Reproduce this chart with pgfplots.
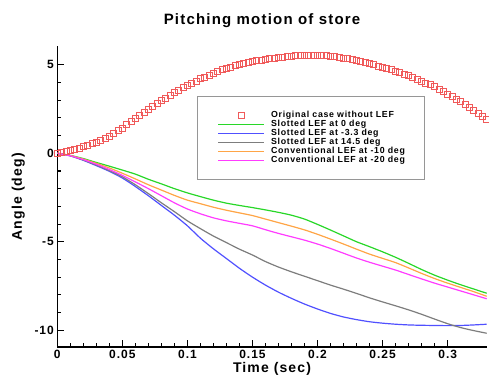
\documentclass[border=0pt]{standalone}
\usepackage{fontspec}
\setmainfont{Liberation Sans}[LetterSpace=8]
\usepackage{pgfplots}
\usepackage{pgfplotstable}
\pgfplotsset{compat=1.18}
\definecolor{cRed}{RGB}{240,90,90}
\definecolor{cGreen}{RGB}{40,215,40}
\definecolor{cBlue}{RGB}{80,80,255}
\definecolor{cGray}{RGB}{125,125,125}
\definecolor{cOrange}{RGB}{255,165,70}
\definecolor{cMag}{RGB}{255,60,255}
\definecolor{cLeg}{RGB}{150,150,150}
\pgfplotsset{
  lineleg/.style={legend image code/.code={\draw[##1, line width=1.6pt] (0pt,0pt) -- (46pt,0pt);}},
  markleg/.style={legend image code/.code={\draw[##1] plot coordinates {(23pt,0pt)};}},
}

\pgfplotstableread{
t v
0 0
0.0033 0.03
0.0067 0.08
0.01 0.15
0.0133 0.22
0.0167 0.29
0.02 0.36
0.0233 0.45
0.0267 0.53
0.03 0.62
0.0333 0.74
0.0367 0.85
0.04 0.97
0.0433 1.12
0.0467 1.27
0.05 1.42
0.0533 1.60
0.0567 1.77
0.06 1.95
0.0633 2.12
0.0667 2.30
0.07 2.47
0.0733 2.63
0.0767 2.80
0.08 2.96
0.0833 3.11
0.0867 3.27
0.09 3.42
0.0933 3.56
0.0967 3.69
0.10 3.83
0.1033 3.95
0.1067 4.08
0.11 4.20
0.1133 4.31
0.1167 4.41
0.12 4.52
0.1233 4.61
0.1267 4.71
0.13 4.80
0.1333 4.87
0.1367 4.95
0.14 5.02
0.1433 5.07
0.1467 5.13
0.15 5.18
0.1533 5.22
0.1567 5.27
0.16 5.31
0.1633 5.34
0.1667 5.38
0.17 5.41
0.1733 5.44
0.1767 5.46
0.18 5.49
0.1833 5.50
0.1867 5.52
0.19 5.53
0.1933 5.53
0.1967 5.53
0.20 5.53
0.2033 5.51
0.2067 5.50
0.21 5.48
0.2133 5.45
0.2167 5.41
0.22 5.38
0.2233 5.33
0.2267 5.29
0.23 5.24
0.2333 5.18
0.2367 5.12
0.24 5.06
0.2433 4.99
0.2467 4.93
0.25 4.86
0.2533 4.79
0.2567 4.72
0.26 4.65
0.2633 4.57
0.2667 4.48
0.27 4.40
0.2733 4.29
0.2767 4.19
0.28 4.08
0.2833 3.97
0.2867 3.86
0.29 3.75
0.2933 3.62
0.2967 3.48
0.30 3.35
0.3033 3.20
0.3067 3.05
0.31 2.90
0.3133 2.74
0.3167 2.58
0.32 2.42
0.3233 2.25
0.3267 2.07
0.33 1.90
}\orig

\pgfplotstableread{
t green blue gray orange mag
0.00 0 0 0 0 0
0.01 -0.12 -0.15 -0.14 -0.13 -0.14
0.02 -0.30 -0.40 -0.38 -0.33 -0.36
0.03 -0.52 -0.70 -0.66 -0.57 -0.62
0.04 -0.73 -1.02 -0.98 -0.83 -0.92
0.05 -0.95 -1.40 -1.33 -1.13 -1.25
0.06 -1.18 -1.88 -1.78 -1.45 -1.62
0.07 -1.47 -2.40 -2.28 -1.78 -2.00
0.08 -1.73 -2.95 -2.80 -2.08 -2.40
0.09 -2.00 -3.50 -3.30 -2.38 -2.80
0.10 -2.24 -4.10 -3.82 -2.65 -3.15
0.11 -2.45 -4.80 -4.26 -2.85 -3.42
0.12 -2.65 -5.40 -4.68 -3.05 -3.65
0.13 -2.82 -5.95 -5.05 -3.22 -3.82
0.14 -2.95 -6.50 -5.42 -3.37 -3.96
0.15 -3.07 -7.00 -5.75 -3.52 -4.10
0.16 -3.20 -7.45 -6.12 -3.72 -4.32
0.17 -3.34 -7.85 -6.43 -3.92 -4.53
0.18 -3.50 -8.20 -6.70 -4.12 -4.72
0.19 -3.72 -8.52 -6.95 -4.33 -4.91
0.20 -4.02 -8.80 -7.20 -4.58 -5.13
0.21 -4.34 -9.05 -7.45 -4.85 -5.38
0.22 -4.67 -9.25 -7.68 -5.13 -5.65
0.23 -5.00 -9.40 -7.92 -5.42 -5.92
0.24 -5.28 -9.52 -8.17 -5.70 -6.16
0.25 -5.57 -9.60 -8.40 -5.94 -6.38
0.26 -5.88 -9.66 -8.62 -6.18 -6.60
0.27 -6.22 -9.70 -8.85 -6.48 -6.85
0.28 -6.57 -9.72 -9.10 -6.79 -7.10
0.29 -6.89 -9.73 -9.37 -7.08 -7.34
0.30 -7.17 -9.74 -9.63 -7.34 -7.56
0.31 -7.43 -9.73 -9.85 -7.58 -7.78
0.32 -7.67 -9.70 -10.02 -7.82 -8.00
0.33 -7.91 -9.66 -10.17 -8.08 -8.22
}\lef

\begin{document}
\begin{tikzpicture}
\path[use as bounding box] (0,0) rectangle (489pt,376pt);
\begin{axis}[
  at={(57.3pt,29.3pt)}, anchor=south west,
  scale only axis, width=429.4pt, height=300.7pt,
  xmin=0, xmax=0.33, ymin=-10.93, ymax=6.06,
  axis lines*=left,
  axis line style={line width=1.6pt, black},
  tick align=inside,
  major tick length=7pt, minor tick length=3.5pt,
  every tick/.style={black, line width=1.1pt},
  xtick={0,0.05,0.1,0.15,0.2,0.25,0.3},
  xticklabels={0,0.05,0.1,0.15,0.2,0.25,0.3},
  ytick={-10,-5,0,5},
  yticklabels={-10,-5,0,5},
  minor x tick num=4, minor y tick num=4,
  /pgf/number format/assume math mode=true,
  tick label style={font=\fontsize{12}{14}\selectfont\bfseries},
  legend cell align=left,
  lineleg,
  legend style={at={(rel axis cs:0.3253,0.8337)}, anchor=north west,
    draw=cLeg, line width=1pt, inner xsep=20pt, inner ysep=15pt,
    font=\fontsize{8.8}{9}\selectfont\bfseries, row sep=1.1pt,
    nodes={inner sep=0pt},
    /tikz/every odd column/.append style={column sep=6pt}},
  clip=false,
]
\addplot[only marks, mark=square, mark size=3pt, color=cRed, draw=cRed, line width=0.9pt, markleg]
  table[x=t,y=v]{\orig};
\addlegendentry{Original case without LEF}
\addplot[color=cGreen, draw=cGreen, line width=1.2pt, smooth, tension=0.4] table[x=t,y=green]{\lef};
\addlegendentry{Slotted LEF at 0 deg}
\addplot[color=cBlue, draw=cBlue, line width=1.2pt, smooth, tension=0.4] table[x=t,y=blue]{\lef};
\addlegendentry{Slotted LEF at -3.3 deg}
\addplot[color=cGray, draw=cGray, line width=1.2pt, smooth, tension=0.4] table[x=t,y=gray]{\lef};
\addlegendentry{Slotted LEF at 14.5 deg}
\addplot[color=cOrange, draw=cOrange, line width=1.2pt, smooth, tension=0.4] table[x=t,y=orange]{\lef};
\addlegendentry{Conventional LEF at -10 deg}
\addplot[color=cMag, draw=cMag, line width=1.2pt, smooth, tension=0.4] table[x=t,y=mag]{\lef};
\addlegendentry{Conventional LEF at -20 deg}
\end{axis}
\node[font=\fontsize{15}{18}\selectfont\bfseries] at (262pt,355pt) {Pitching motion of store};
\node[font=\fontsize{14}{17}\selectfont\bfseries] at (272pt,7pt) {Time (sec)};
\node[font=\fontsize{14}{17}\selectfont\bfseries, rotate=90] at (18.3pt,179.3pt) {Angle (deg)};
\end{tikzpicture}
\end{document}
